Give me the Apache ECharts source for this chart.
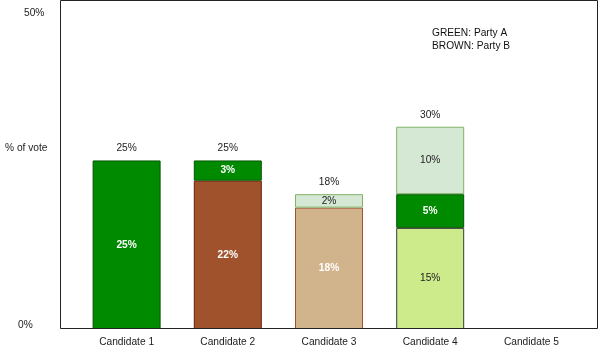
<!DOCTYPE html>
<html>
<head>
<meta charset="utf-8">
<script src="https://cdn.jsdelivr.net/npm/echarts@6/dist/echarts.min.js"></script>
<style>
  html, body { margin: 0; padding: 0; background: #fff; }
  #view { width: 600px; height: 355px; }
</style>
</head>
<body>
<div id="view"></div>
<script>
// categories and stacked segments (bottom -> top), values in % of vote
var candidates = ['Candidate 1', 'Candidate 2', 'Candidate 3', 'Candidate 4', 'Candidate 5']
var limeGreen  = [null, null, null, 15, null]
var brownB     = [null, 22, null, null, null]
var tanB       = [null, null, 18, null, null]
var greenA     = [25, 3, null, 5, null]
var paleGreen  = [null, null, 2, 10, null]
var totals     = [25, 25, 18, 30, null]
var yTicks     = ['50%', '% of vote', '0%']

var font = 'Arial, "Liberation Sans", sans-serif'
var fs = 10.2

function seg (name, data, fill, border, txt, bold) {
    return {
        name: name,
        type: 'bar',
        stack: 'vote',
        barWidth: 68,
        data: data,
        itemStyle: { color: fill, borderColor: border, borderWidth: 1 },
        label: {
            show: true,
            position: 'inside',
            color: txt,
            fontFamily: font,
            fontSize: fs,
            fontWeight: bold ? 'bold' : 'normal',
            formatter: function (p) { return p.value + '%' }
        },
        emphasis: { disabled: true }
    }
}

var mychart = echarts.init(document.getElementById('view'))
var options = {
    animation: false,
    grid: { left: 76, right: 18, top: 0, bottom: 26 },
    xAxis: {
        type: 'category',
        data: candidates,
        axisLine: { show: false },
        axisTick: { show: false },
        axisLabel: { color: '#222', fontFamily: font, fontSize: fs, margin: 8 }
    },
    yAxis: {
        type: 'value',
        min: 0,
        max: 48.8,
        splitLine: { show: false },
        axisLine: { show: false },
        axisTick: { show: false },
        axisLabel: { show: false }
    },
    graphic: [
        { type: 'rect', silent: true, z: 10,
          shape: { x: 60.5, y: 0.5, width: 537, height: 328 },
          style: { fill: 'none', stroke: '#222', lineWidth: 1 } },
        { type: 'text', left: 24, top: 8, style: { text: yTicks[0], font: fs + 'px ' + font, fill: '#222' } },
        { type: 'text', left: 5, top: 143, style: { text: yTicks[1], font: fs + 'px ' + font, fill: '#222' } },
        { type: 'text', left: 18, top: 320, style: { text: yTicks[2], font: fs + 'px ' + font, fill: '#222' } },
        { type: 'text', left: 432, top: 27,
          style: { text: 'GREEN: Party A\nBROWN: Party B', font: fs + 'px ' + font, fill: '#111', lineHeight: 12.5 } }
    ],
    series: [
        seg('lime', limeGreen, '#cdeb8b', '#36393d', '#222', false),
        seg('brown', brownB, '#a0522d', '#6d1f00', '#fff', true),
        seg('tan', tanB, '#d2b48c', '#a0522d', '#fff', true),
        seg('green', greenA, '#008a00', '#005700', '#fff', true),
        seg('pale', paleGreen, '#d5e8d4', '#82b366', '#222', false),
        {
            name: 'total',
            type: 'bar',
            stack: 'vote',
            barWidth: 68,
            data: totals.map(function (t) { return t == null ? null : 0 }),
            itemStyle: { color: 'transparent' },
            label: {
                show: true,
                position: 'top',
                distance: 7,
                color: '#222',
                fontFamily: font,
                fontSize: fs,
                formatter: function (p) { return totals[p.dataIndex] + '%' }
            }
        }
    ]
}
mychart.setOption(options)
</script>
</body>
</html>
